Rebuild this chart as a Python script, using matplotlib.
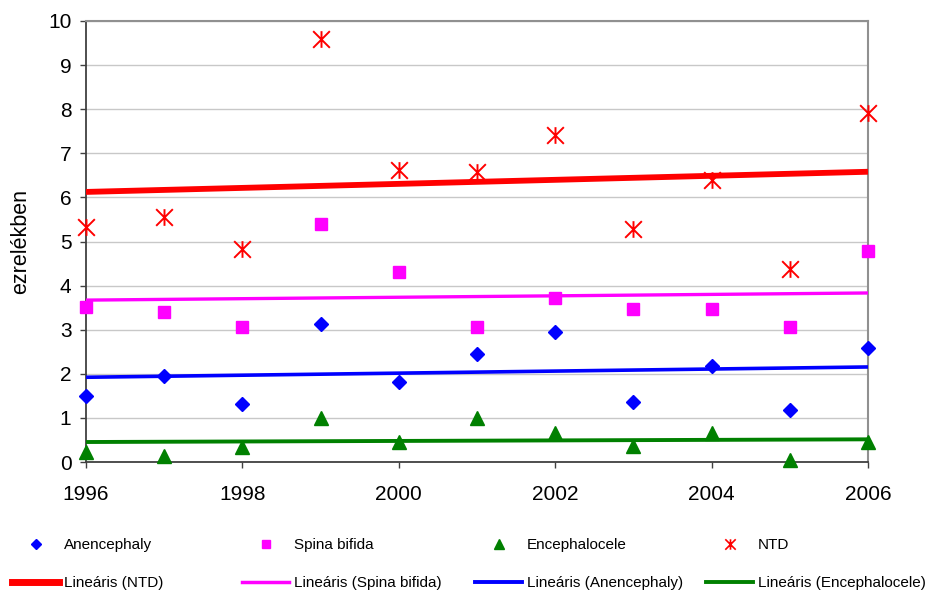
import matplotlib
matplotlib.use('Agg')
import matplotlib.pyplot as plt
import numpy as np
from matplotlib.path import Path
from matplotlib.lines import Line2D

plt.rcParams['font.family'] = ['Liberation Sans', 'DejaVu Sans']

years = np.arange(1996, 2007)
anencephaly = [1.50, 1.95, 1.31, 3.13, 1.82, 2.45, 2.95, 1.36, 2.18, 1.18, 2.59]
spina_bifida = [3.52, 3.40, 3.07, 5.40, 4.30, 3.07, 3.71, 3.47, 3.47, 3.07, 4.79]
encephalocele = [0.22, 0.14, 0.35, 0.99, 0.45, 0.99, 0.66, 0.36, 0.66, 0.05, 0.45]
ntd = [5.33, 5.56, 4.83, 9.59, 6.62, 6.58, 7.41, 5.28, 6.39, 4.38, 7.91]

# X with a vertical bar, like the Excel star marker
star = Path([(-1, -1), (1, 1), (-1, 1), (1, -1), (0, -1), (0, 1)],
            [Path.MOVETO, Path.LINETO, Path.MOVETO, Path.LINETO, Path.MOVETO, Path.LINETO])

fig = plt.figure(figsize=(9.26, 5.95), dpi=100)
ax = fig.add_axes([86 / 926, 1 - 462 / 595, 782 / 926, 441 / 595])

ax.plot(years, anencephaly, ls='none', marker='D', ms=7, color='#0000FF', clip_on=False, zorder=3)
ax.plot(years, spina_bifida, ls='none', marker='s', ms=8.5, color='#FF00FF', clip_on=False, zorder=3)
ax.plot(years, encephalocele, ls='none', marker='^', ms=9.5, color='#008000', clip_on=False, zorder=3)
ax.plot(years, ntd, ls='none', marker=star, ms=12, mew=1.4, mfc='none', color='#FF0000',
        clip_on=False, zorder=3)

# linear trend lines
trends = [(ntd, '#FF0000', 4.2), (spina_bifida, '#FF00FF', 2.4),
          (anencephaly, '#0000FF', 2.6), (encephalocele, '#008000', 2.8)]
for vals, col, lw in trends:
    k, b = np.polyfit(years, vals, 1)
    xs = np.array([years[0], years[-1]])
    ax.plot(xs, k * xs + b, color=col, lw=lw, solid_capstyle='butt', zorder=4)

ax.set_xlim(1996, 2006)
ax.set_ylim(0, 10)
ax.set_xticks(np.arange(1996, 2007, 2))
ax.set_yticks(np.arange(0, 11, 1))
ax.grid(axis='y', color='#C8C8C8', lw=1)
ax.set_axisbelow(True)
ax.tick_params(labelsize=15, length=4.5, width=1, color='#404040', direction='out')
ax.tick_params(axis='x', pad=12)
ax.tick_params(axis='y', pad=6)
for s in ['top', 'right']:
    ax.spines[s].set_color('#909090')
    ax.spines[s].set_linewidth(1.5)
for s in ['left', 'bottom']:
    ax.spines[s].set_color('#404040')
    ax.spines[s].set_linewidth(1.3)

ax.set_ylabel('ezrelékben', fontsize=15.5)
ax.yaxis.set_label_coords(-0.07, 0.5)

# legend, two rows of four entries
row1 = [
    Line2D([], [], ls='none', marker='D', ms=5.5, color='#0000FF', label='Anencephaly'),
    Line2D([], [], ls='none', marker='s', ms=6, color='#FF00FF', label='Spina bifida'),
    Line2D([], [], ls='none', marker='^', ms=7, color='#008000', label='Encephalocele'),
    Line2D([], [], ls='none', marker=star, ms=7.5, mew=1.2, mfc='none', color='#FF0000', label='NTD'),
]
row2 = [
    Line2D([], [], color='#FF0000', lw=5, label='Lineáris (NTD)'),
    Line2D([], [], color='#FF00FF', lw=2.5, label='Lineáris (Spina bifida)'),
    Line2D([], [], color='#0000FF', lw=2.8, label='Lineáris (Anencephaly)'),
    Line2D([], [], color='#008000', lw=2.8, label='Lineáris (Encephalocele)'),
]
x0s = [12, 242, 475, 706]
for row, ypx in [(row1, 545), (row2, 583)]:
    for h, xpx in zip(row, x0s):
        fig.legend(handles=[h], loc='center left', bbox_to_anchor=(xpx / 926, 1 - ypx / 595),
                   frameon=False, fontsize=11, handlelength=3.1, handletextpad=0.3,
                   borderpad=0, borderaxespad=0)

fig.savefig('out.png', dpi=100)
